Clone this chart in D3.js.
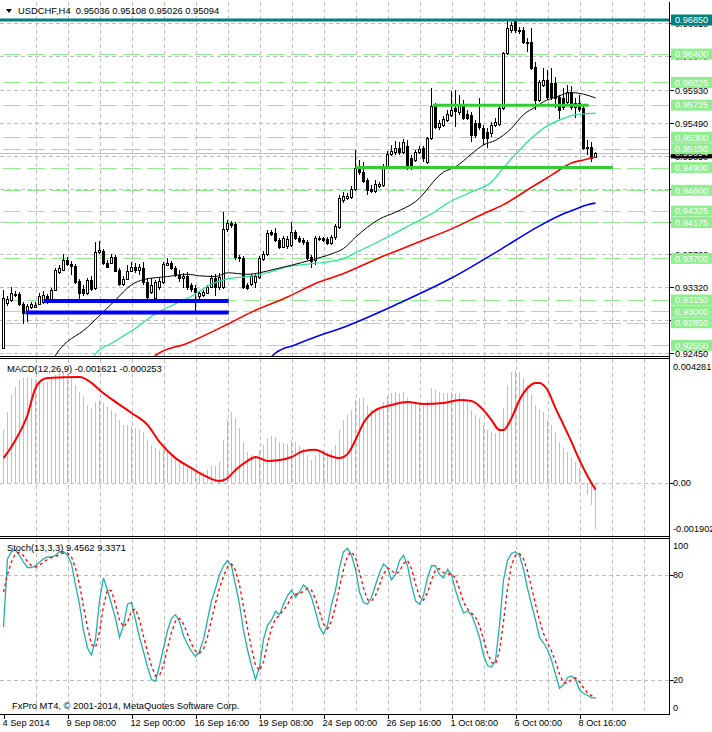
<!DOCTYPE html>
<html><head><meta charset="utf-8">
<script src="https://d3js.org/d3.v7.min.js"></script>
<style>
body{margin:0;background:#fff}
svg{display:block;font-family:"Liberation Sans",Arial,sans-serif}
</style></head>
<body><svg id="c" width="712" height="732"></svg>
<script>
// ---------- DATA ----------
const opens=[0.9252,0.9311,0.9315,0.9323,0.9323,0.9310,0.9298,0.9306,0.9306,0.9310,0.9313,0.9320,0.9313,0.9328,0.9352,0.9355,0.9368,0.9363,0.9360,0.9340,0.9330,0.9324,0.9342,0.9331,0.9379,0.9380,0.9364,0.9364,0.9372,0.9355,0.9336,0.9343,0.9353,0.9359,0.9355,0.9357,0.9339,0.9326,0.9318,0.9332,0.9339,0.9361,0.9364,0.9357,0.9348,0.9344,0.9347,0.9335,0.9331,0.9320,0.9322,0.9324,0.9332,0.9344,0.9332,0.9332,0.9409,0.9417,0.9415,0.9372,0.9371,0.9335,0.9336,0.9339,0.9346,0.9369,0.9376,0.9405,0.9404,0.9394,0.9385,0.9386,0.9388,0.9405,0.9397,0.9394,0.9392,0.9372,0.9368,0.9396,0.9397,0.9396,0.9390,0.9398,0.9412,0.9447,0.9450,0.9451,0.9462,0.9488,0.9484,0.9474,0.9462,0.9459,0.9466,0.9467,0.9492,0.9508,0.9511,0.9516,0.9511,0.9519,0.9503,0.9500,0.9511,0.9516,0.9497,0.9529,0.9571,0.9544,0.9546,0.9553,0.9560,0.9569,0.9563,0.9573,0.9561,0.9560,0.9549,0.9549,0.9542,0.9537,0.9536,0.9546,0.9548,0.9569,0.9641,0.9672,0.9685,0.9672,0.9672,0.9656,0.9656,0.9623,0.9579,0.9599,0.9606,0.9602,0.9602,0.9583,0.9582,0.9577,0.9590,0.9570,0.9575,0.9569,0.9517,0.9517,0.95036];
const highs=[0.9328,0.9320,0.9332,0.9327,0.9326,0.9313,0.9310,0.9313,0.9313,0.9324,0.9327,0.9323,0.9331,0.9357,0.9361,0.9376,0.9372,0.9367,0.9363,0.9343,0.9335,0.9344,0.9347,0.9392,0.9393,0.9383,0.9368,0.9376,0.9375,0.9357,0.9347,0.9361,0.9365,0.9364,0.9363,0.9365,0.9344,0.9344,0.9342,0.9344,0.9365,0.9371,0.9367,0.9360,0.9355,0.9351,0.9352,0.9338,0.9335,0.9327,0.9328,0.9335,0.9348,0.9349,0.9351,0.9431,0.9421,0.9419,0.9418,0.9375,0.9373,0.9338,0.9349,0.9351,0.9373,0.9380,0.9408,0.9408,0.9410,0.9397,0.9400,0.9400,0.9418,0.9408,0.9400,0.9397,0.9394,0.9375,0.9400,0.9400,0.9398,0.9398,0.9401,0.9415,0.9454,0.9458,0.9456,0.9466,0.9513,0.9500,0.9497,0.9476,0.9467,0.9474,0.9471,0.9495,0.9512,0.9520,0.9525,0.9524,0.9528,0.9526,0.9507,0.9513,0.9519,0.9519,0.9530,0.9595,0.9575,0.9553,0.9558,0.9566,0.9591,0.9592,0.9586,0.9579,0.9566,0.9563,0.9553,0.9582,0.9546,0.9542,0.9550,0.9556,0.9573,0.9643,0.9684,0.9682,0.9686,0.9676,0.9676,0.9661,0.9674,0.9630,0.9606,0.9622,0.9619,0.9622,0.9610,0.9586,0.9595,0.9599,0.9598,0.9582,0.9586,0.9573,0.9526,0.9524,0.95108];
const lows=[0.9250,0.9307,0.9313,0.9319,0.9307,0.9283,0.9286,0.9303,0.9305,0.9309,0.9310,0.9310,0.9311,0.9327,0.9349,0.9353,0.9360,0.9348,0.9336,0.9313,0.9320,0.9322,0.9327,0.9328,0.9376,0.9361,0.9357,0.9363,0.9352,0.9334,0.9334,0.9342,0.9352,0.9351,0.9348,0.9335,0.9316,0.9323,0.9315,0.9328,0.9336,0.9360,0.9355,0.9346,0.9339,0.9331,0.9328,0.9326,0.9298,0.9315,0.9319,0.9323,0.9331,0.9320,0.9328,0.9330,0.9405,0.9410,0.9368,0.9365,0.9330,0.9328,0.9334,0.9331,0.9343,0.9367,0.9373,0.9400,0.9392,0.9382,0.9384,0.9382,0.9385,0.9394,0.9390,0.9388,0.9368,0.9357,0.9361,0.9393,0.9392,0.9388,0.9388,0.9394,0.9409,0.9443,0.9447,0.9449,0.9459,0.9480,0.9470,0.9454,0.9456,0.9456,0.9463,0.9464,0.9490,0.9505,0.9507,0.9507,0.9508,0.9487,0.9487,0.9497,0.9508,0.9497,0.9495,0.9526,0.9541,0.9540,0.9544,0.9550,0.9557,0.9544,0.9560,0.9553,0.9553,0.9524,0.9529,0.9540,0.9520,0.9516,0.9530,0.9544,0.9545,0.9566,0.9639,0.9668,0.9668,0.9667,0.9653,0.9643,0.9619,0.9566,0.9577,0.9596,0.9579,0.9579,0.9569,0.9554,0.9566,0.9571,0.9566,0.9556,0.9563,0.9513,0.9507,0.9497,0.95026];
const closes=[0.9318,0.9316,0.9324,0.9322,0.9310,0.9298,0.9307,0.9310,0.9309,0.9320,0.9322,0.9313,0.9328,0.9355,0.9357,0.9368,0.9363,0.9360,0.9339,0.9324,0.9324,0.9342,0.9330,0.9379,0.9381,0.9364,0.9359,0.9372,0.9353,0.9336,0.9343,0.9353,0.9359,0.9355,0.9359,0.9339,0.9319,0.9335,0.9339,0.9340,0.9363,0.9364,0.9357,0.9348,0.9344,0.9347,0.9332,0.9330,0.9326,0.9324,0.9326,0.9332,0.9344,0.9332,0.9346,0.9409,0.9417,0.9414,0.9372,0.9371,0.9332,0.9331,0.9347,0.9347,0.9371,0.9376,0.9404,0.9402,0.9394,0.9385,0.9397,0.9396,0.9405,0.9397,0.9393,0.9392,0.9371,0.9367,0.9397,0.9397,0.9394,0.9390,0.9398,0.9413,0.9450,0.9452,0.9452,0.9462,0.9490,0.9484,0.9472,0.9460,0.9459,0.9468,0.9468,0.9492,0.9508,0.9512,0.9516,0.9511,0.9524,0.9491,0.9490,0.9511,0.9515,0.9503,0.9529,0.9571,0.9544,0.9549,0.9554,0.9561,0.9566,0.9565,0.9573,0.9556,0.9556,0.9533,0.9533,0.9544,0.9529,0.9529,0.9546,0.9550,0.9569,0.9641,0.9674,0.9678,0.9672,0.9670,0.9656,0.9655,0.9622,0.9579,0.9603,0.9606,0.9583,0.9583,0.9582,0.9566,0.9570,0.9590,0.9570,0.9575,0.9567,0.9516,0.9516,0.9503,0.95094];

// moving averages: bar index + value
const maBlackBars=[12,13,21,28,32,35,41,46,49,53,56,61,64,68,72,77,82,85,88,94,98,103,110,113,117,120,123,127,130,133,135,138,142,145,148];
const maBlackVals=[0.9233,0.9242,0.9279,0.9315,0.9335,0.9342,0.9346,0.9349,0.9347,0.9346,0.9351,0.9349,0.9351,0.9356,0.9361,0.9368,0.9376,0.9383,0.9398,0.9422,0.9431,0.9445,0.9484,0.9491,0.9508,0.9520,0.9526,0.9542,0.9560,0.9570,0.9577,0.9583,0.9589,0.9587,0.9582];
const maGreenBars=[22,23,27,32,38,43,47,52,56,61,66,71,77,84,89,97,102,107,111,117,122,125,129,132,135,140,143,145,148];
const maGreenVals=[0.9236,0.9244,0.9258,0.9274,0.9297,0.9310,0.9320,0.9336,0.9343,0.9346,0.9351,0.9359,0.9363,0.9368,0.9380,0.9401,0.9415,0.9429,0.9443,0.9458,0.9471,0.9490,0.9513,0.9529,0.9542,0.9555,0.9560,0.9561,0.9562];
const maRedBars=[37,38,46,56,62,71,79,84,94,104,112,120,125,132,137,142,145,148];
const maRedVals=[0.9236,0.9242,0.9258,0.9283,0.9299,0.9319,0.9339,0.9348,0.9371,0.9392,0.9409,0.9429,0.9441,0.9464,0.9480,0.9496,0.9500,0.9504];
const maBlueBars=[67,68,73,79,84,99,112,124,134,140,143,146,148];
const maBlueVals=[0.9240,0.9245,0.9256,0.9268,0.9277,0.9311,0.9344,0.9381,0.9413,0.9429,0.9435,0.9441,0.9443];

// MACD
const macdMain=[0.00185,0.00248,0.00308,0.00336,0.00361,0.00368,0.00372,0.00368,0.00361,0.00354,
0.0035,0.00354,0.00368,0.00379,0.00389,0.00389,0.00386,0.00375,0.00343,0.00319,
0.00305,0.00273,0.00262,0.00284,0.00291,0.0028,0.00266,0.00255,0.00245,0.0022,
0.00203,0.00203,0.00199,0.00192,0.00185,0.00178,0.0015,0.00132,0.00122,0.00115,
0.00122,0.00115,0.00097,0.00079,0.00072,0.00069,0.00062,0.00051,0.00037,0.0003,
0.00037,0.00044,0.00058,0.00058,0.00072,0.0015,0.0022,0.00248,0.00227,0.00192,
0.00143,0.00107,0.00097,0.00086,0.00115,0.00132,0.00157,0.00164,0.0016,0.00143,
0.00139,0.00136,0.0015,0.00143,0.00129,0.00118,0.00097,0.00079,0.00097,0.00107,
0.00115,0.00107,0.00115,0.00132,0.00185,0.0022,0.00238,0.00255,0.00291,0.00298,
0.00298,0.00273,0.00255,0.00255,0.00262,0.00284,0.00305,0.00315,0.00319,0.00315,
0.00319,0.00298,0.00277,0.00277,0.0028,0.0027,0.00284,0.00333,0.00326,0.00319,
0.00315,0.00315,0.00319,0.00315,0.00315,0.00298,0.00284,0.00255,0.00238,0.00227,
0.00203,0.00185,0.00178,0.00174,0.00192,0.00262,0.00343,0.00389,0.00396,0.00389,
0.00368,0.00343,0.00308,0.00273,0.00255,0.00248,0.0022,0.00203,0.00178,0.00143,
0.00122,0.00107,0.00086,0.00072,0.00051,-0.00009,-0.00044,-0.00079,-0.001621];
const macdSigBars=[0,3,6,8,9,11,19,22,24,28,32,36,39,43,47,50,54,56,58,61,63,66,69,72,75,78,81,84,86,88,90,93,97,101,105,110,114,117,120,122,124,125,127,129,131,133,134,136,138,140,142,144,146,148];
const macdSigVals=[0.00086,0.0015,0.00238,0.00333,0.00354,0.00368,0.00372,0.00351,0.00326,0.00284,0.00245,0.00203,0.00143,0.00086,0.00051,0.00026,0.00005,0.00016,0.00044,0.00076,0.0009,0.00076,0.00079,0.0009,0.00111,0.00115,0.00097,0.00086,0.001,0.0015,0.0021,0.00255,0.00273,0.00284,0.00277,0.0028,0.00291,0.00287,0.00255,0.0022,0.00185,0.00185,0.00227,0.00291,0.00333,0.00351,0.00351,0.00326,0.00262,0.00203,0.00143,0.00079,0.00023,-0.000253];

// Stochastic
const stochMain=[50,89,93,94,91,87,84,84,85,87,
89,90,90,91,93,93,91,86,74,63,
48,38,34,43,65,78,71,63,55,44,
51,63,64,54,44,36,27,20,19,28,
38,48,55,57,53,45,40,36,33,36,
43,54,65,72,80,85,88,85,74,63,
48,37,28,20,27,43,51,54,59,57,
63,68,71,67,70,74,72,67,59,50,
46,51,63,71,84,93,95,91,83,70,
64,63,67,74,81,86,84,77,80,88,
91,85,74,65,63,68,78,85,85,80,
78,83,80,71,64,58,59,57,51,44,
34,28,27,31,51,77,88,92,93,91,
83,72,63,54,44,41,37,31,23,15,
17,21,22,20,14,12,11,9.5,9.4562];
const stochSignal=[70,80,87.3,92,92.7,90.7,87.3,85,84.3,85.3,
87,88.7,89.7,90.3,91.3,92.3,92.3,90,83.7,74.3,
61.7,49.7,40,38.3,47.3,62,71.3,70.7,63,54,
50,52.7,59.3,60.3,54,44.7,35.7,27.7,22,22.3,
28.3,38,47,53.3,55,51.7,46,40.3,36.3,35,
37.3,44.3,54,63.7,72.3,79,84.3,86,82.3,74,
61.7,49.3,37.7,28.3,25,30,40.3,49.3,54.7,56.7,
59.7,62.7,67.3,68.7,69.3,70.3,72,71,66,58.7,
51.7,49,53.3,61.7,72.7,82.7,90.7,93,89.7,81.3,
72.3,65.7,64.7,68,74,80.3,83.7,82.3,80.3,81.7,
86.3,88,83.3,74.7,67.3,65.3,69.7,77,82.7,83.3,
81,80.3,80.3,78,71.7,64.3,60.3,58,55.7,50.7,
43,35.3,29.7,28.7,36.3,53,72,85.7,91,92,
89,82,72.7,63,53.7,46.3,40.7,36.3,30.3,23,
18.3,17.7,20,21,18.7,15.3,12.3,10.8,9.3371];

// axis / labels
const gridPrices=[0.9681,0.9637,0.9593,0.9549,0.9505,0.9462,0.9418,0.9376,0.9332,0.9288,0.9245];
const levelPrices=[0.964,0.96025,0.95725,0.953,0.9515,0.949,0.946,0.94325,0.94175,0.937,0.9315,0.93,0.9285,0.9255];
const topLevel=0.9685;
const bidPrice=0.95094;
const blueLevels=[0.9315,0.9300], blueFrom=[10,5.5], blueTo=[56.3,56.3];
const thickGreenLevels=[0.95725,0.949], thickGreenFrom=[107.3,88], thickGreenTo=[146.3,152.3];
const xTickBars=[0,16,32,48,64,80,96,112,128,144];
const xTickLabels=["4 Sep 2014","9 Sep 08:00","12 Sep 00:00","16 Sep 16:00","19 Sep 08:00","24 Sep 00:00","26 Sep 16:00","1 Oct 08:00","6 Oct 00:00","8 Oct 16:00"];
const macdAxisVals=[0.004281,0,-0.001902];
const macdAxisLabels=["0.004281","0.00","-0.001902"];
const stochAxisVals=[100,80,20,0];

// ---------- DRAW ----------
const svg=d3.select('#c');
const AX=669.5;
const P={main:[2,356.5],macd:[358.5,536.5],st:[538.5,714.5]};
const x=d3.scaleLinear().domain([0,1]).range([3.5,7.5]);
const yP=d3.scaleLinear().domain([0.9245,0.9685]).range([353,20]);
const yM=d3.scaleLinear().domain([-0.001902,0.004281]).range([536.5,361]);
const yS=d3.scaleLinear().domain([0,100]).range([714.5,539.5]);
const px=v=>Math.round(v)+0.5;

const defs=svg.append('defs');
Object.entries(P).forEach(([k,[t,b]])=>{
  defs.append('clipPath').attr('id','cl-'+k).append('rect').attr('x',0).attr('y',t).attr('width',AX).attr('height',b-t);
});
const gMain=svg.append('g').attr('clip-path','url(#cl-main)');
const gMacd=svg.append('g').attr('clip-path','url(#cl-macd)');
const gSt=svg.append('g').attr('clip-path','url(#cl-st)');

const GRID='#c0c0c0';
// vertical grid
const vg=d3.range(8,161,8);
[[gMain,P.main],[gMacd,P.macd],[gSt,P.st]].forEach(([g,[t,b]])=>{
  g.selectAll(null).data(vg).join('line').attr('x1',d=>px(x(d))-0.5+0.5).attr('x2',d=>px(x(d))).attr('x1',d=>px(x(d)))
   .attr('y1',t).attr('y2',b).attr('stroke',GRID).attr('stroke-dasharray','4,3').attr('shape-rendering','crispEdges');
});
// horizontal grid
gMain.selectAll(null).data(gridPrices).join('line').attr('x1',0).attr('x2',AX).attr('y1',d=>px(yP(d))).attr('y2',d=>px(yP(d)))
  .attr('stroke',GRID).attr('stroke-dasharray','4,3').attr('shape-rendering','crispEdges');
gMacd.append('line').attr('x1',0).attr('x2',AX).attr('y1',px(yM(0))).attr('y2',px(yM(0))).attr('stroke',GRID).attr('stroke-dasharray','4,3').attr('shape-rendering','crispEdges');
gSt.selectAll(null).data([80,20]).join('line').attr('x1',0).attr('x2',AX).attr('y1',d=>px(yS(d))).attr('y2',d=>px(yS(d)))
  .attr('stroke',GRID).attr('stroke-dasharray','4,3').attr('shape-rendering','crispEdges');

// level lines (light green dashed)
gMain.selectAll(null).data(levelPrices).join('line').attr('x1',3).attr('x2',AX).attr('y1',d=>px(yP(d))).attr('y2',d=>px(yP(d)))
  .attr('stroke','#90ee90').attr('stroke-dasharray','18,6').attr('shape-rendering','crispEdges');
// bid line
gMain.append('line').attr('x1',0).attr('x2',AX).attr('y1',px(yP(bidPrice))).attr('y2',px(yP(bidPrice))).attr('stroke','#c0c0c0').attr('shape-rendering','crispEdges');

// candles
const idx=d3.range(opens.length);
const cg=gMain.append('g').attr('shape-rendering','crispEdges');
cg.selectAll('.w').data(idx).join('line').attr('x1',i=>x(i)).attr('x2',i=>x(i))
  .attr('y1',i=>Math.round(yP(highs[i]))).attr('y2',i=>Math.round(yP(lows[i]))).attr('stroke','#000');
cg.selectAll('.b').data(idx).join('rect')
  .attr('x',i=>x(i)-1).attr('width',2)
  .attr('y',i=>Math.round(yP(Math.max(opens[i],closes[i])))+0.5)
  .attr('height',i=>Math.max(0,Math.round(yP(Math.min(opens[i],closes[i])))-Math.round(yP(Math.max(opens[i],closes[i])))))
  .attr('fill',i=>closes[i]>=opens[i]?'#fff':'#000').attr('stroke','#000');

// moving averages
const mkLine=(bars,vals,scale)=>d3.line().x(d=>x(d[0])).y(d=>scale(d[1])).curve(d3.curveMonotoneX)(d3.zip(bars,vals));
gMain.append('path').attr('d',mkLine(maBlueBars,maBlueVals,yP)).attr('fill','none').attr('stroke','#0000ff').attr('stroke-width',1.6);
gMain.append('path').attr('d',mkLine(maRedBars,maRedVals,yP)).attr('fill','none').attr('stroke','#ff0000').attr('stroke-width',1.6);
gMain.append('path').attr('d',mkLine(maGreenBars,maGreenVals,yP)).attr('fill','none').attr('stroke','#1ee890').attr('stroke-width',1.2);
gMain.append('path').attr('d',mkLine(maBlackBars,maBlackVals,yP)).attr('fill','none').attr('stroke','#000').attr('stroke-width',1);

// thick objects
gMain.selectAll(null).data(d3.range(blueLevels.length)).join('line').attr('x1',i=>x(blueFrom[i])).attr('x2',i=>x(blueTo[i]))
  .attr('y1',i=>yP(blueLevels[i])+1).attr('y2',i=>yP(blueLevels[i])+1).attr('stroke','#0000ff').attr('stroke-width',4);
gMain.selectAll(null).data(d3.range(thickGreenLevels.length)).join('line').attr('x1',i=>x(thickGreenFrom[i])).attr('x2',i=>x(thickGreenTo[i]))
  .attr('y1',i=>yP(thickGreenLevels[i])).attr('y2',i=>yP(thickGreenLevels[i])).attr('stroke','#32cd32').attr('stroke-width',3);
gMain.append('line').attr('x1',0).attr('x2',AX).attr('y1',yP(topLevel)).attr('y2',yP(topLevel)).attr('stroke','#008080').attr('stroke-width',3);

// MACD
gMacd.append('g').attr('shape-rendering','crispEdges').selectAll('line').data(idx).join('line')
  .attr('x1',i=>x(i)).attr('x2',i=>x(i)).attr('y1',Math.round(yM(0))).attr('y2',i=>Math.round(yM(macdMain[i])))
  .attr('stroke','#c0c0c0');
gMacd.append('path').attr('d',mkLine(macdSigBars,macdSigVals,yM)).attr('fill','none').attr('stroke','#ff0000').attr('stroke-width',2);

// Stoch
const sLine=d3.line().x((d,i)=>x(i)).y(d=>yS(d));
gSt.append('path').attr('d',sLine(stochMain)).attr('fill','none').attr('stroke','#20b2aa').attr('stroke-width',1.3);
gSt.append('path').attr('d',sLine(stochSignal)).attr('fill','none').attr('stroke','#ff0000').attr('stroke-width',1.3).attr('stroke-dasharray','3,3');

// frames
const fr=svg.append('g').attr('stroke','#000').attr('shape-rendering','crispEdges');
[P.main[1],P.macd[0],P.macd[1],P.st[0],P.st[1]].forEach(y=>fr.append('line').attr('x1',0).attr('x2',AX+0.5).attr('y1',y).attr('y2',y));
fr.append('line').attr('x1',AX).attr('x2',AX).attr('y1',2).attr('y2',P.st[1]);

// x axis ticks and labels
const xa=svg.append('g');
xa.selectAll('line').data(xTickBars).join('line').attr('x1',d=>px(x(d))-0.5).attr('x2',d=>px(x(d))-0.5).attr('y1',714).attr('y2',719)
  .attr('stroke','#000').attr('shape-rendering','crispEdges');
xa.selectAll('text').data(xTickBars).join('text').attr('x',d=>x(d)-1).attr('y',726).attr('font-size','9.2px').text((d,i)=>xTickLabels[i]);

// right axis main
const ra=svg.append('g').attr('font-size','9.2px');
gridPrices.forEach(v=>{
  const y=px(yP(v));
  ra.append('line').attr('x1',AX).attr('x2',AX+4).attr('y1',y).attr('y2',y).attr('stroke','#000').attr('shape-rendering','crispEdges');
  ra.append('text').attr('x',675).attr('y',y).attr('dy','0.36em').text(d3.format('.5f')(v));
});
function box(v,fill){
  const y=yP(v);
  ra.append('rect').attr('x',671).attr('y',y-5.5).attr('width',42).attr('height',11).attr('fill',fill);
  ra.append('text').attr('x',675).attr('y',y).attr('dy','0.36em').attr('fill','#fff').text(d3.format('.5f')(v));
}
box(bidPrice,'#000');
levelPrices.forEach(v=>box(v,'#90ee90'));
box(topLevel,'#008080');

// right axis MACD
macdAxisVals.forEach((v,i)=>{
  let y=yM(v);
  if(i===0) y=367; if(i===2) y=529;
  if(v===0) ra.append('line').attr('x1',AX).attr('x2',AX+4).attr('y1',px(yM(0))).attr('y2',px(yM(0))).attr('stroke','#000');
  ra.append('text').attr('x',673).attr('y',y).attr('dy','0.36em').text(macdAxisLabels[i]);
});
// right axis Stoch
stochAxisVals.forEach(v=>{
  let y=yS(v);
  if(v===100) y=546; if(v===0) y=708;
  if(v===80||v===20) ra.append('line').attr('x1',AX).attr('x2',AX+4).attr('y1',px(yS(v))).attr('y2',px(yS(v))).attr('stroke','#000');
  ra.append('text').attr('x',673).attr('y',y).attr('dy','0.36em').text(v);
});

// titles
svg.append('path').attr('d','M6,9L12,9L9,13Z').attr('fill','#000');
svg.append('text').attr('x',18).attr('y',14).attr('font-size','9.4px').style('white-space','pre')
  .text('USDCHF,H4  0.95036 0.95108 0.95026 0.95094');
svg.append('text').attr('x',7).attr('y',372).attr('font-size','9.4px').text('MACD(12,26,9) -0.001621 -0.000253');
svg.append('text').attr('x',7).attr('y',551).attr('font-size','9.4px').text('Stoch(13,3,3) 9.4562 9.3371');
svg.append('text').attr('x',12).attr('y',709).attr('font-size','9.4px').text('FxPro MT4, © 2001-2014, MetaQuotes Software Corp.');
</script></body></html>
